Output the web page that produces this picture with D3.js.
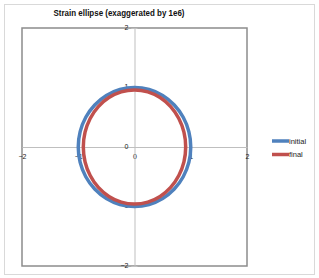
<!DOCTYPE html>
<html>
<head>
<meta charset="utf-8">
<script src="https://cdn.jsdelivr.net/npm/d3@7"></script>
<style>
  body { margin: 0; background: #fff; }
  svg { display: block; font-family: "Liberation Sans", Arial, sans-serif; }
</style>
</head>
<body>
<div id="chart"></div>
<script>
// points (every 15 degrees round the ellipse)
var initialX = [1, 0.966, 0.866, 0.707, 0.5, 0.259, 0, -0.259, -0.5, -0.707, -0.866, -0.966,
                -1, -0.966, -0.866, -0.707, -0.5, -0.259, 0, 0.259, 0.5, 0.707, 0.866, 0.966];
var initialY = [0, 0.259, 0.5, 0.707, 0.866, 0.966, 1, 0.966, 0.866, 0.707, 0.5, 0.259,
                0, -0.259, -0.5, -0.707, -0.866, -0.966, -1, -0.966, -0.866, -0.707, -0.5, -0.259];
var finalX = [0.91, 0.879, 0.788, 0.643, 0.455, 0.236, 0, -0.236, -0.455, -0.643, -0.788, -0.879,
              -0.91, -0.879, -0.788, -0.643, -0.455, -0.236, 0, 0.236, 0.455, 0.643, 0.788, 0.879];
var finalY = [0, 0.249, 0.48, 0.679, 0.831, 0.927, 0.96, 0.927, 0.831, 0.679, 0.48, 0.249,
              0, -0.249, -0.48, -0.679, -0.831, -0.927, -0.96, -0.927, -0.831, -0.679, -0.48, -0.249];
var seriesNames = ["initial", "final"];
var seriesColors = ["#4f81bd", "#c0504d"];
var tickValues = [-2, -1, 0, 1, 2];

var width = 319, height = 278;
var plot = {left: 22, right: 247, top: 28, bottom: 266};

var svg = d3.select('#chart')
            .append('svg')
            .attr('width', width)
            .attr('height', height);

// chart frame
svg.append('rect')
  .attr('x', 4.5).attr('y', 4.5)
  .attr('width', 310).attr('height', 270)
  .attr('fill', '#fff')
  .attr('stroke', '#d9d9d9');

var xScale = d3.scaleLinear().domain([-2, 2]).range([plot.left, plot.right]);
var yScale = d3.scaleLinear().domain([-2, 2]).range([plot.bottom, plot.top]);

// plot area border
svg.append('rect')
  .attr('x', plot.left).attr('y', plot.top)
  .attr('width', plot.right - plot.left).attr('height', plot.bottom - plot.top)
  .attr('fill', '#fff')
  .attr('stroke', '#8c8c8c')
  .attr('stroke-width', 1.5);

// center axes
var xAxis = d3.axisBottom(xScale).tickValues(tickValues).tickSize(0).tickFormat(d3.format('d'));
var yAxis = d3.axisLeft(yScale).tickValues(tickValues).tickSize(3).tickFormat(d3.format('d'));

var gx = svg.append('g')
  .attr('transform', 'translate(0,' + yScale(0) + ')')
  .call(xAxis);
gx.select('.domain').attr('stroke', '#bfbfbf');
gx.selectAll('text').attr('font-size', 7).attr('fill', '#222').attr('dy', '1.3em');

var gy = svg.append('g')
  .attr('transform', 'translate(' + xScale(0) + ',0)')
  .call(yAxis);
gy.select('.domain').attr('stroke', '#bfbfbf');
gy.selectAll('line').attr('stroke', '#bfbfbf').attr('x2', 3).attr('x1', -3);
gy.selectAll('text').attr('font-size', 7).attr('fill', '#222').attr('x', -6).attr('dy', '0.2em');

// ellipses
var seriesData = [
  d3.zip(initialX, initialY),
  d3.zip(finalX, finalY)
];

var line = d3.line()
  .x(function(d) { return xScale(d[0]); })
  .y(function(d) { return yScale(d[1]); })
  .curve(d3.curveCatmullRomClosed);

svg.selectAll('path.ellipse')
  .data(seriesData)
  .enter()
  .append('path')
  .attr('class', 'ellipse')
  .attr('d', line)
  .attr('fill', 'none')
  .attr('stroke', function(d, i) { return seriesColors[i]; })
  .attr('stroke-width', 3.5);

// title
svg.append('text')
  .attr('x', 119).attr('y', 16)
  .attr('text-anchor', 'middle')
  .attr('font-size', 8.5)
  .attr('font-weight', 'bold')
  .attr('fill', '#111')
  .attr('textLength', 131)
  .attr('lengthAdjust', 'spacingAndGlyphs')
  .text('Strain ellipse (exaggerated by 1e6)');

// legend
var legend = svg.selectAll('g.legend')
  .data(seriesNames)
  .enter()
  .append('g')
  .attr('class', 'legend')
  .attr('transform', function(d, i) { return 'translate(272,' + (141 + i * 13.5) + ')'; });

legend.append('line')
  .attr('x1', 0).attr('x2', 17)
  .attr('stroke', function(d, i) { return seriesColors[i]; })
  .attr('stroke-width', 3.5);

legend.append('text')
  .attr('x', 17).attr('dy', '0.35em')
  .attr('font-size', 7.5)
  .attr('fill', '#222')
  .text(function(d) { return d; });
</script>
</body>
</html>
